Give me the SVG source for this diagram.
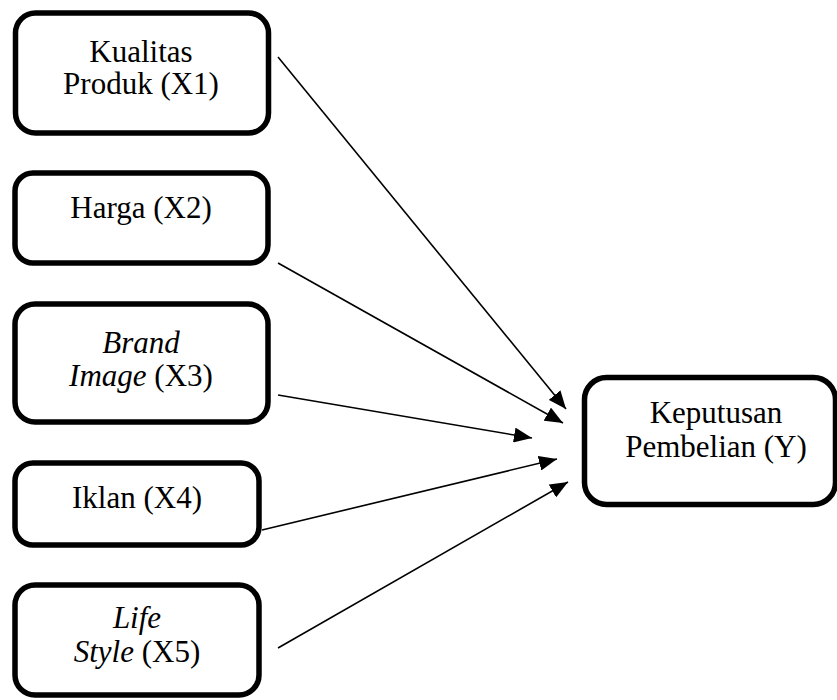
<svg xmlns="http://www.w3.org/2000/svg" width="837" height="700" viewBox="0 0 837 700">
<style>
.box{fill:#fff;stroke:#000;stroke-width:5.5}
.t{font-family:"Liberation Serif","Times New Roman",serif;font-size:31px;fill:#000;text-anchor:middle}
.i{font-style:italic}
.c{stroke:#000;stroke-width:1.6;fill:none}
</style>
<defs>
<marker id="ah" markerUnits="userSpaceOnUse" markerWidth="19" markerHeight="15" refX="18" refY="7.5" orient="auto">
<path d="M0,0 L18,7.5 L0,15 Z" fill="#000"/>
</marker>
</defs>
<rect width="837" height="700" fill="#fff"/>
<g id="x1">
<rect class="box" x="15.5" y="13" width="253" height="120" rx="20"/>
<text class="t" x="141" y="62">Kualitas</text>
<text class="t" x="141" y="94">Produk (X1)</text>
</g>
<g id="x2">
<rect class="box" x="15" y="173" width="253" height="90" rx="18"/>
<text class="t" x="141" y="218">Harga (X2)</text>
</g>
<g id="x3">
<rect class="box" x="15" y="304" width="253" height="118" rx="20"/>
<text class="t" x="141" y="353"><tspan class="i">Brand</tspan></text>
<text class="t" x="141" y="386"><tspan class="i">Image</tspan> (X3)</text>
</g>
<g id="x4">
<rect class="box" x="15" y="463" width="244" height="82" rx="18"/>
<text class="t" x="137" y="508">Iklan (X4)</text>
</g>
<g id="x5">
<rect class="box" x="15" y="585" width="244" height="110" rx="20"/>
<text class="t" x="137" y="628"><tspan class="i">Life</tspan></text>
<text class="t" x="137" y="662"><tspan class="i">Style</tspan> (X5)</text>
</g>
<g id="y">
<rect class="box" x="584.5" y="377.5" width="251" height="127" rx="22"/>
<text class="t" x="716" y="423">Keputusan</text>
<text class="t" x="716" y="457">Pembelian (Y)</text>
</g>
<g id="connectors">
<line class="c" x1="278" y1="57" x2="566" y2="409" marker-end="url(#ah)"/>
<line class="c" x1="278" y1="263" x2="563" y2="423" marker-end="url(#ah)"/>
<line class="c" x1="278" y1="395" x2="532" y2="438" marker-end="url(#ah)"/>
<line class="c" x1="262" y1="530" x2="557" y2="459" marker-end="url(#ah)"/>
<line class="c" x1="278" y1="648" x2="568" y2="482" marker-end="url(#ah)"/>
</g>
</svg>
